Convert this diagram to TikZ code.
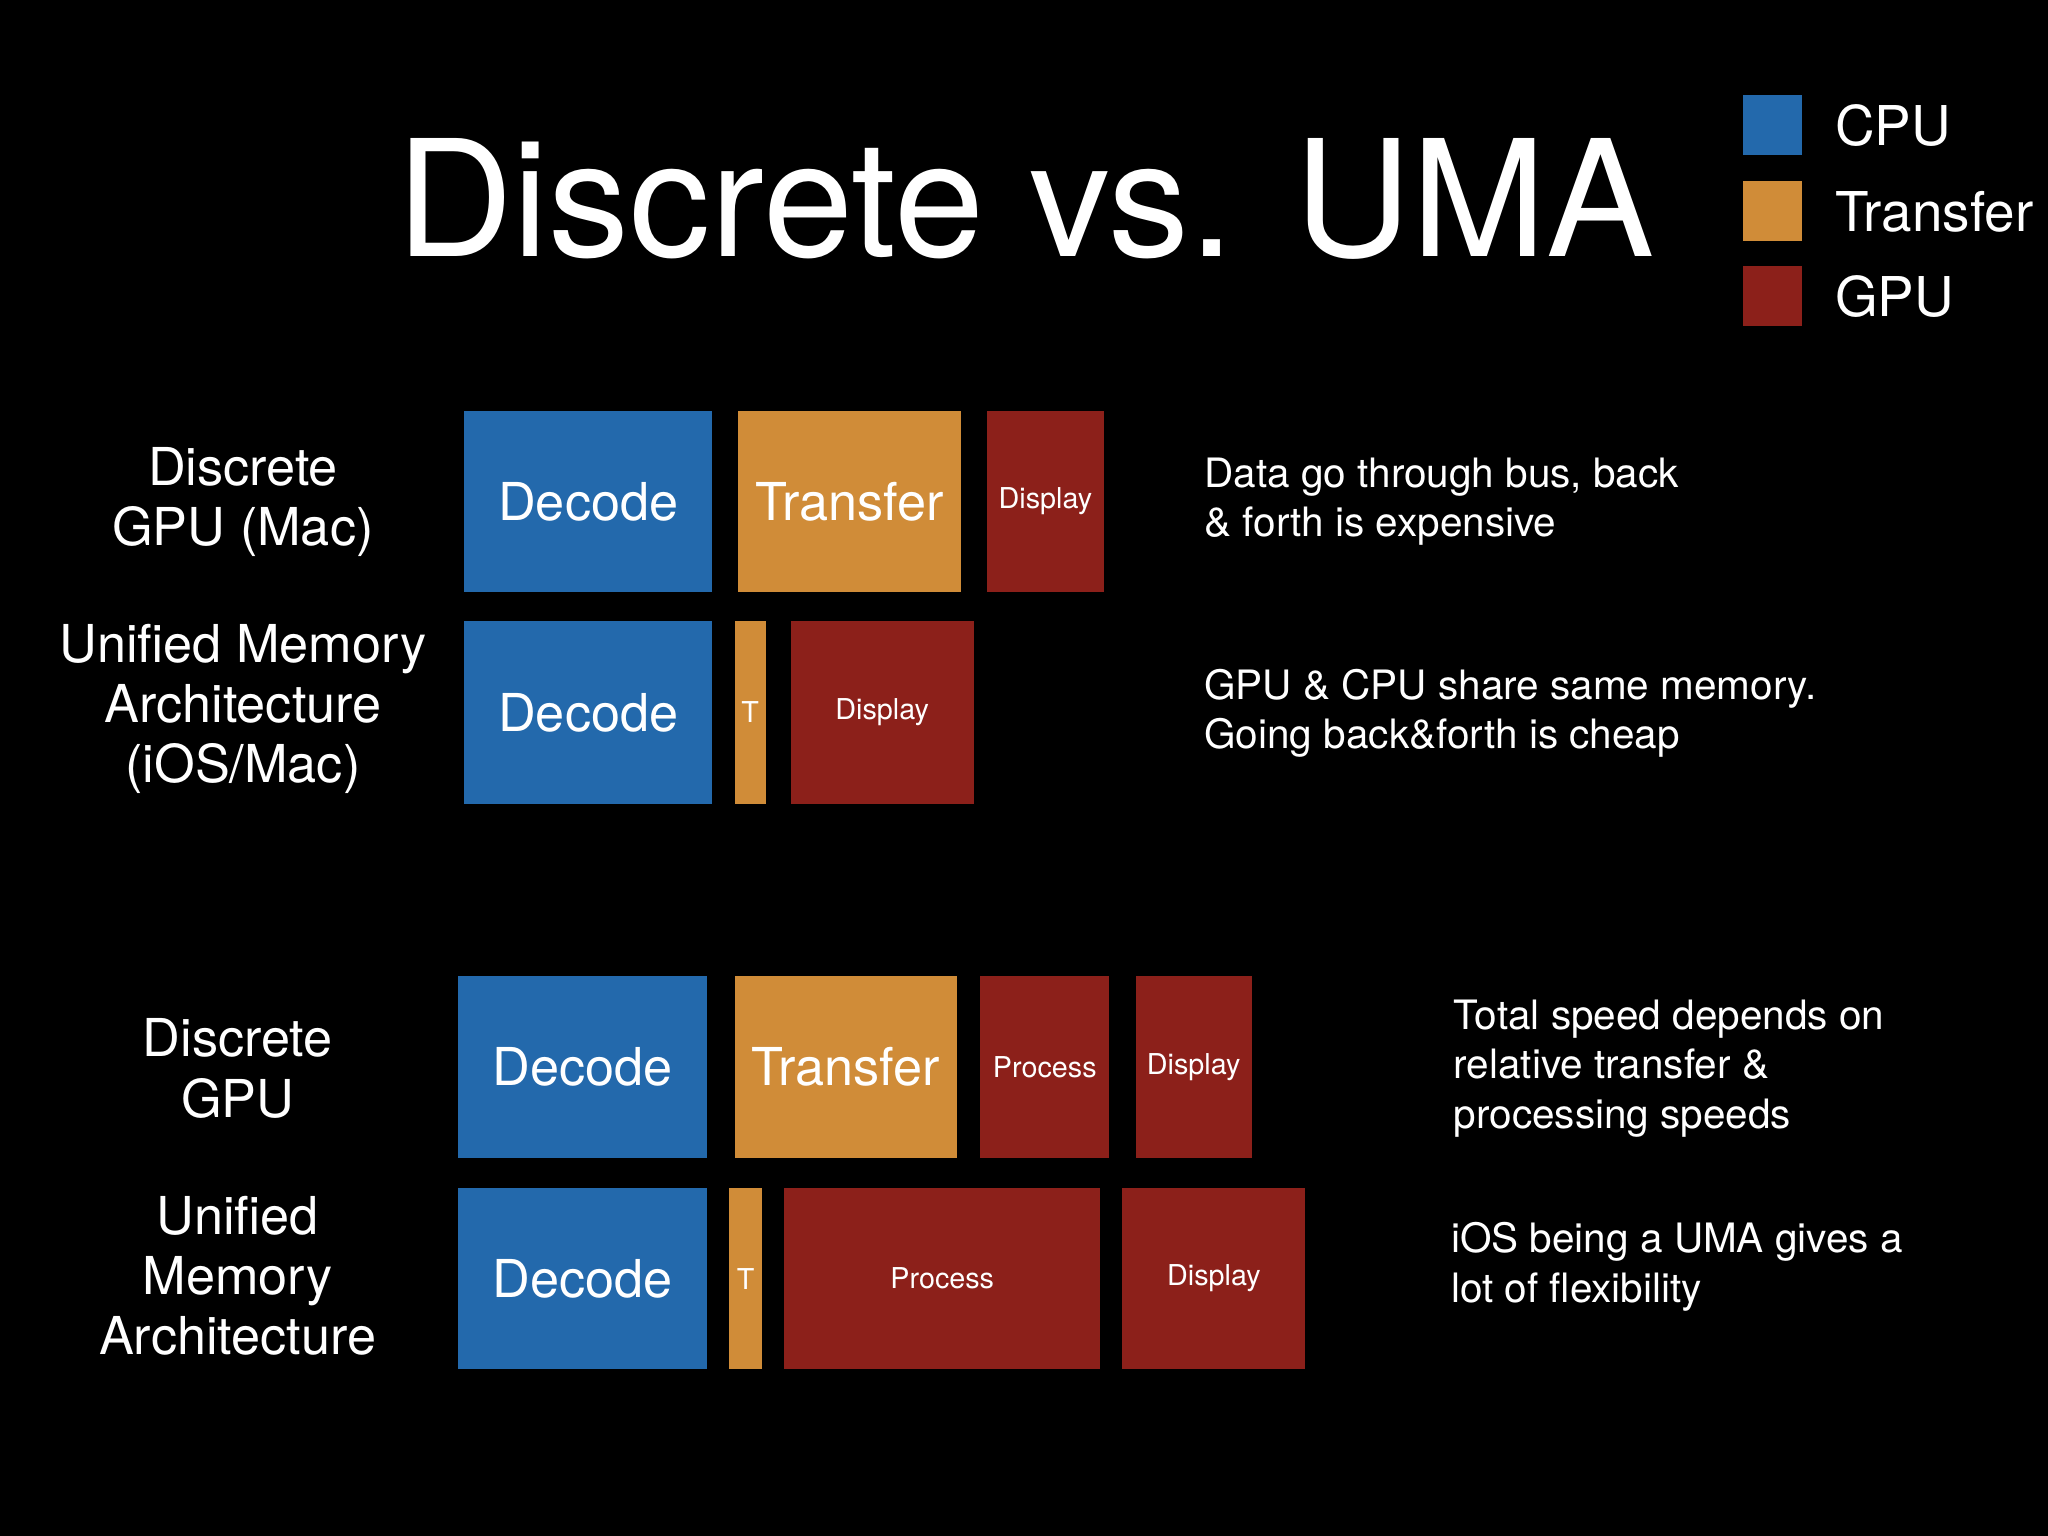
\documentclass[tikz,border=0pt]{standalone}
\usepackage{fontspec}
\setmainfont{TeX Gyre Heros}
\definecolor{cpu}{RGB}{35,105,172}
\definecolor{tr}{RGB}{208,140,56}
\definecolor{gpu}{RGB}{140,32,26}
\begin{document}
\begin{tikzpicture}[x=0.5pt,y=-0.5pt,
 box/.style={draw=none,inner sep=0,anchor=north west,text=white,font=\fontsize{20}{24}\selectfont},
 sm/.style={font=\fontsize{11}{13}\selectfont},
 lab/.style={text=white,align=center,font=\fontsize{20}{23}\selectfont},
 note/.style={text=white,align=left,anchor=west,font=\fontsize{15.5}{19}\selectfont},
 leg/.style={text=white,anchor=west,font=\fontsize{21}{24}\selectfont}]
\fill[black] (0,0) rectangle (1568,1176);
\useasboundingbox (0,0) rectangle (1568,1176);
\node[text=white,font=\fontsize{62}{70}\selectfont] (title) at (785,152) {Discrete vs. UMA};
% legend
\node[box,fill=cpu,minimum width=22.5pt,minimum height=23pt] (lc) at (1334,72) {};
\node[box,fill=tr,minimum width=22.5pt,minimum height=23pt] (lt) at (1334,138) {};
\node[box,fill=gpu,minimum width=22.5pt,minimum height=23pt] (lg) at (1334,203) {};
\node[leg] (tc) at (1398,96) {CPU};
\node[leg] (tt) at (1398,162) {Transfer};
\node[leg] (tg) at (1398,227) {GPU};
% row 1
\node[box,fill=cpu,minimum width=95pt,minimum height=69.5pt] (d1) at (355,314) {Decode};
\node[box,fill=tr,minimum width=85pt,minimum height=69.5pt] (t1) at (565,314) {Transfer};
\node[box,sm,fill=gpu,minimum width=45pt,minimum height=69.5pt] (p1) at (755,314) {Display};
% row 2
\node[box,fill=cpu,minimum width=95pt,minimum height=70pt] (d2) at (355,475) {Decode};
\node[box,sm,fill=tr,minimum width=12pt,minimum height=70pt] (t2) at (562,475) {T};
\node[box,sm,fill=gpu,minimum width=70pt,minimum height=70pt] (p2) at (605,475) {Display};
% row 3
\node[box,fill=cpu,minimum width=95.5pt,minimum height=69.5pt] (d3) at (350,747) {Decode};
\node[box,fill=tr,minimum width=85pt,minimum height=69.5pt] (t3) at (562,747) {Transfer};
\node[box,sm,fill=gpu,minimum width=49.5pt,minimum height=69.5pt] (q3) at (750,747) {Process};
\node[box,sm,fill=gpu,minimum width=44.5pt,minimum height=69.5pt] (p3) at (869,747) {Display};
% row 4
\node[box,fill=cpu,minimum width=95.5pt,minimum height=69.5pt] (d4) at (350,909) {Decode};
\node[box,sm,fill=tr,minimum width=12.5pt,minimum height=69.5pt] (t4) at (558,909) {T};
\node[box,sm,fill=gpu,minimum width=121pt,minimum height=69.5pt] (q4) at (600,909) {Process};
\node[box,sm,fill=gpu,minimum width=70pt,minimum height=69.5pt] (p4) at (859,909) {Display};
% left labels
\node[lab] (l1) at (186,384) {Discrete\\GPU (Mac)};
\node[lab] (l2) at (186,543) {Unified Memory\\Architecture\\(iOS/Mac)};
\node[lab] (l3) at (182,818) {Discrete\\GPU};
\node[lab] (l4) at (182,977) {Unified\\Memory\\Architecture};
% notes
\node[note] (n1) at (915,384) {Data go through bus, back\\\& forth is expensive};
\node[note] (n2) at (915,546) {GPU \& CPU share same memory.\\Going back\&forth is cheap};
\node[note] (n3) at (1106,818) {Total speed depends on\\relative transfer \&\\processing speeds};
\node[note] (n4) at (1104,970) {iOS being a UMA gives a\\lot of flexibility};
\end{tikzpicture}
\end{document}
